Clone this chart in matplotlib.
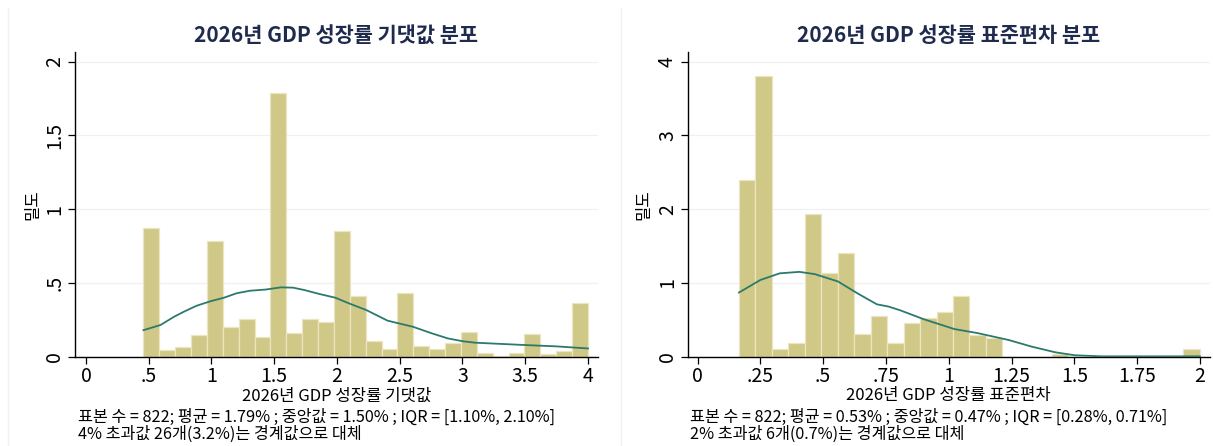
import numpy as np
import matplotlib
matplotlib.use('Agg')
import matplotlib.pyplot as plt

plt.rcParams['font.family'] = ['Noto Sans CJK KR', 'DejaVu Sans']

# 왼쪽: 기댓값 히스토그램 (밀도)
mean_edges = np.linspace(0.458, 4.0, 29)
mean_density = [0.87, 0.045, 0.063, 0.15, 0.786, 0.20, 0.255, 0.133, 1.79, 0.16,
                0.255, 0.237, 0.852, 0.411, 0.104, 0.054, 0.43, 0.075, 0.054, 0.095,
                0.17, 0.027, 0.005, 0.027, 0.154, 0.016, 0.038, 0.362]
mean_kde_x = [0.458, 0.594, 0.70, 0.78, 0.88, 0.996, 1.10, 1.20, 1.305, 1.43, 1.553,
              1.65, 1.739, 1.86, 1.986, 2.10, 2.234, 2.404, 2.605, 2.75, 2.883, 3.0,
              3.1, 3.3, 3.502, 3.75, 4.0]
mean_kde_y = [0.18, 0.215, 0.27, 0.305, 0.345, 0.377, 0.40, 0.43, 0.447, 0.455, 0.47,
              0.468, 0.452, 0.425, 0.40, 0.36, 0.316, 0.244, 0.203, 0.16, 0.124, 0.105,
              0.095, 0.087, 0.079, 0.07, 0.056]

# 오른쪽: 표준편차 히스토그램 (밀도)
sd_edges = np.linspace(0.165, 2.0, 29)
sd_density = [2.40, 3.80, 0.10, 0.18, 1.94, 1.14, 1.40, 0.31, 0.55, 0.18,
              0.46, 0.53, 0.61, 0.82, 0.29, 0.26, 0, 0, 0, 0.03,
              0, 0, 0, 0.015, 0, 0, 0, 0.10]
sd_kde_x = [0.165, 0.25, 0.327, 0.405, 0.466, 0.559, 0.636, 0.714, 0.76, 0.806, 0.899,
            1.022, 1.115, 1.239, 1.331, 1.424, 1.501, 1.609, 1.795, 2.0]
sd_kde_y = [0.87, 1.04, 1.13, 1.15, 1.12, 1.02, 0.86, 0.71, 0.68, 0.63, 0.51,
            0.375, 0.32, 0.226, 0.136, 0.06, 0.02, 0.005, 0.005, 0.005]

mean_xticks = [0, 0.5, 1, 1.5, 2, 2.5, 3, 3.5, 4]
mean_xlabels = ['0', '.5', '1', '1.5', '2', '2.5', '3', '3.5', '4']
mean_yticks = [0, 0.5, 1, 1.5, 2]
mean_ylabels = ['0', '.5', '1', '1.5', '2']
sd_xticks = [0, 0.25, 0.5, 0.75, 1, 1.25, 1.5, 1.75, 2]
sd_xlabels = ['0', '.25', '.5', '.75', '1', '1.25', '1.5', '1.75', '2']
sd_yticks = [0, 1, 2, 3, 4]
sd_ylabels = ['0', '1', '2', '3', '4']

mean_notes = ['표본 수 = 822; 평균 = 1.79% ; 중앙값 = 1.50% ; IQR = [1.10%, 2.10%]',
              '4% 초과값 26개(3.2%)는 경계값으로 대체']
sd_notes = ['표본 수 = 822; 평균 = 0.53% ; 중앙값 = 0.47% ; IQR = [0.28%, 0.71%]',
            '2% 초과값 6개(0.7%)는 경계값으로 대체']

bar_color = '#d0c886'
bar_edge = '#ebe5c2'
line_color = '#2b7a6c'
title_color = '#1e2b4d'

fig = plt.figure(figsize=(12.13, 4.46), dpi=100)
ax1 = fig.add_axes([0.0618, 0.2002, 0.4312, 0.6832])
ax2 = fig.add_axes([0.567, 0.2002, 0.4305, 0.6832])

# 패널 경계선 (희미하게)
for xpos in [8 / 1213, 621 / 1213]:
    fig.add_artist(plt.Line2D([xpos, xpos], [0, 1 - 8 / 446], color='#f0f0f0', lw=1))


def draw(ax, edges, dens, kx, ky, xt, xl, yt, yl, xlim, ylim, title, xlabel, ylab_x):
    ax.bar(edges[:-1], dens, width=np.diff(edges), align='edge',
           color=bar_color, edgecolor=bar_edge, linewidth=0.9, zorder=2)
    ax.plot(kx, ky, color=line_color, lw=1.3, zorder=3)
    ax.set_xlim(*xlim)
    ax.set_ylim(*ylim)
    ax.set_xticks(xt)
    ax.set_xticklabels(xl, fontsize=14)
    ax.set_yticks(yt)
    ax.set_yticklabels(yl, fontsize=14, rotation=90, va='center')
    ax.grid(axis='y', color='#f0f0f0', lw=0.9, zorder=0)
    ax.set_axisbelow(True)
    for s in ['top', 'right']:
        ax.spines[s].set_visible(False)
    ax.spines['left'].set_linewidth(1.0)
    ax.spines['bottom'].set_linewidth(1.0)
    ax.tick_params(axis='both', length=5, width=0.9, direction='out')
    ax.tick_params(axis='x', pad=2)
    ax.tick_params(axis='y', pad=2)
    ax.set_title(title, fontsize=15, color=title_color, fontweight='bold', pad=7)
    ax.set_xlabel(xlabel, fontsize=12, labelpad=0)
    ax.set_ylabel('밀도', fontsize=12)
    ax.yaxis.set_label_coords(ylab_x, 0.5)


draw(ax1, mean_edges, mean_density, mean_kde_x, mean_kde_y,
     mean_xticks, mean_xlabels, mean_yticks, mean_ylabels,
     (-0.088, 4.08), (0, 2.065), '2026년 GDP 성장률 기댓값 분포', '2026년 GDP 성장률 기댓값',
     -0.064)
draw(ax2, sd_edges, sd_density, sd_kde_x, sd_kde_y,
     sd_xticks, sd_xlabels, sd_yticks, sd_ylabels,
     (-0.039, 2.04), (0, 4.13), '2026년 GDP 성장률 표준편차 분포', '2026년 GDP 성장률 표준편차',
     -0.067)

for xpix, notes in [(78, mean_notes), (690, sd_notes)]:
    for ypix, line in zip([417, 434], notes):
        fig.text(xpix / 1213, 1 - ypix / 446, line, fontsize=11.7, va='center')

fig.savefig('out.png', dpi=100, facecolor='white')
